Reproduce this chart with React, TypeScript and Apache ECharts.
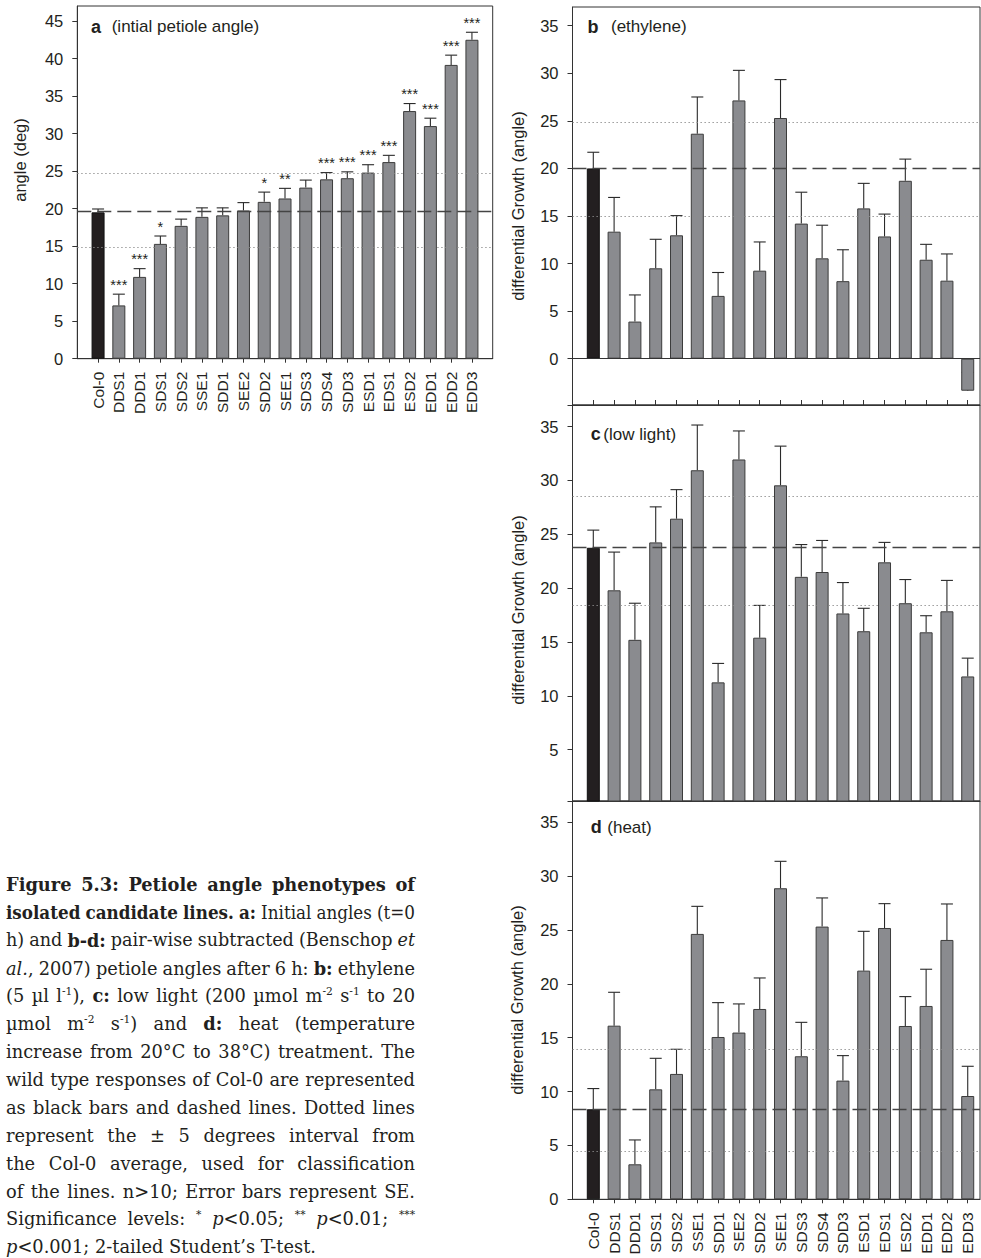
import React, { useEffect, useRef } from 'react';
import * as echarts from 'echarts';

// ---------- data ----------
const categories = ['Col-0', 'DDS1', 'DDD1', 'SDS1', 'SDS2', 'SSE1', 'SDD1', 'SEE2', 'SDD2', 'SEE1', 'SDS3', 'SDS4', 'SDD3', 'ESD1', 'EDS1', 'ESD2', 'EDD1', 'EDD2', 'EDD3'];

// panel a: initial petiole angle
const aMean = [19.5, 7.1, 10.9, 15.3, 17.7, 18.9, 19.1, 19.75, 20.9, 21.35, 22.8, 23.9, 24.05, 24.8, 26.2, 33.0, 31.0, 39.15, 42.5];
const aSE = [0.45, 1.5, 1.1, 1.05, 0.9, 1.2, 1.0, 1.05, 1.3, 1.35, 1.0, 0.9, 0.85, 1.05, 0.9, 1.0, 1.05, 1.3, 1.0];
const aSig = ['', '***', '***', '*', '', '', '', '', '*', '**', '', '***', '***', '***', '***', '***', '***', '***', '***'];
const aRef = 19.7;
const aDotted = [24.65, 14.8];

// panel b: ethylene
const bMean = [20.0, 13.35, 3.9, 9.5, 12.97, 23.65, 6.6, 27.15, 9.25, 25.3, 14.2, 10.55, 8.15, 15.8, 12.85, 18.7, 10.4, 8.2, -3.37];
const bSE = [1.7, 3.6, 2.8, 3.05, 2.07, 3.86, 2.46, 3.16, 3.02, 4.04, 3.3, 3.48, 3.3, 2.63, 2.35, 2.28, 1.62, 2.81, 1.93];
const bRef = 20.0;
const bDotted = [24.9, 14.95];

// panel c: low light
const cMean = [23.75, 19.8, 15.2, 24.25, 26.45, 30.95, 11.25, 31.95, 15.4, 29.55, 21.05, 21.5, 17.65, 16.0, 22.4, 18.6, 15.9, 17.85, 11.8];
const cSE = [1.64, 3.55, 3.4, 3.3, 2.7, 4.2, 1.76, 2.65, 3.0, 3.64, 3.0, 2.93, 2.87, 2.13, 1.85, 2.2, 1.54, 2.87, 1.7];
const cRef = 23.8;
const cDotted = [28.5, 18.4];

// panel d: heat
const dMean = [8.36, 16.12, 3.25, 10.21, 11.64, 24.64, 15.07, 15.48, 17.67, 28.88, 13.28, 25.32, 11.02, 21.23, 25.19, 16.09, 17.95, 24.08, 9.59];
const dSE = [1.92, 3.1, 2.26, 2.88, 2.29, 2.56, 3.19, 2.66, 2.88, 2.5, 3.15, 2.66, 2.32, 3.65, 2.26, 2.73, 3.41, 3.34, 2.76];
const dRef = 8.36;
const dDotted = [13.9, 4.45];

const aTicks = [0, 5, 10, 15, 20, 25, 30, 35, 40, 45];
const bTicks = [0, 5, 10, 15, 20, 25, 30, 35];
const cTicks = [5, 10, 15, 20, 25, 30, 35];
const dTicks = [0, 5, 10, 15, 20, 25, 30, 35];

const titles = [
  { letter: 'a', text: '(intial petiole angle)' },
  { letter: 'b', text: '(ethylene)' },
  { letter: 'c', text: '(low light)' },
  { letter: 'd', text: '(heat)' },
];
const aName = 'angle (deg)';
const bcdName = 'differential Growth (angle)';

const CAPTION = [
  '{b|Figure} {b|5.3:} {b|Petiole} {b|angle} {b|phenotypes} {b|of}',
  '{b|isolated} {b|candidate} {b|lines.} {b|a:} Initial angles (t=0',
  'h) and {b|b-d:} pair-wise subtracted (Benschop {i|et}',
  '{i|al.}, 2007) petiole angles after 6 h: {b|b:} ethylene',
  '(5 µl l{s|-1}), {b|c:} low light (200 µmol m{s|-2} s{s|-1} to 20',
  'µmol m{s|-2} s{s|-1}) and {b|d:} heat (temperature',
  'increase from 20°C to 38°C) treatment. The',
  'wild type responses of Col-0 are represented',
  'as black bars and dashed lines. Dotted lines',
  'represent the ± 5 degrees interval from',
  'the Col-0 average, used for classification',
  'of the lines. n>10; Error bars represent SE.',
  'Significance levels: {s|*} {i|p}<0.05; {s|**} {i|p}<0.01; {s|***}',
  '{i|p}<0.001; 2-tailed Student’s T-test.',
];

// ---------- styles ----------
const FONT = '"Liberation Sans", Arial, Helvetica, sans-serif';
const SERIF = '"DejaVu Serif", serif';
const TXT = '#231f20';
const AX = '#333333';
const GRAY = '#8a8b8f';
const BLACK = '#231f20';
const EDGE = '#3c3c3c';

const idx = categories.map((_, i) => i);

function buildPanel(k: number, means: number[], se: number[], sig: string[] | null, ref: number, dotted: number[], zero: boolean) {
  const mlData: any[] = [
    { yAxis: ref, lineStyle: { type: [14, 6], color: '#444', width: 1.3 } },
    ...dotted.map((v) => ({ yAxis: v, lineStyle: { type: [1.3, 2.7], color: '#8c8c8c', width: 1 } })),
  ];
  if (zero) mlData.push({ yAxis: 0, lineStyle: { type: 'solid', color: AX, width: 1 } });
  const bar = {
    type: 'bar',
    xAxisIndex: k,
    yAxisIndex: k,
    barWidth: 13,
    data: means.map((v, i) => ({
      value: [i, v],
      itemStyle: { color: i === 0 ? BLACK : GRAY, borderColor: i === 0 ? '#111' : EDGE, borderWidth: 1 },
    })),
    markLine: { silent: true, symbol: ['none', 'none'], label: { show: false }, data: mlData },
  };
  const err = {
    type: 'custom',
    xAxisIndex: k,
    yAxisIndex: k,
    data: means.map((v, i) => [i, v, se[i]]),
    renderItem: (params: any, api: any) => {
      const i = params.dataIndex;
      const x = api.value(0);
      const v = api.value(1);
      const s = api.value(2);
      const p0 = api.coord([x, v]);
      const p1 = api.coord([x, v + s]);
      const st = { stroke: '#2a2a2a', lineWidth: 1.1 };
      const children: any[] = [
        { type: 'line', shape: { x1: p0[0], y1: p0[1], x2: p1[0], y2: p1[1] }, style: st },
        { type: 'line', shape: { x1: p1[0] - 6, y1: p1[1], x2: p1[0] + 6, y2: p1[1] }, style: st },
      ];
      if (sig && sig[i]) {
        children.push({
          type: 'text',
          style: { text: sig[i], x: p1[0], y: p1[1] - 2, align: 'center', verticalAlign: 'bottom', fontSize: 14.5, fontFamily: FONT, fill: TXT },
        });
      }
      return { type: 'group', children };
    },
  };
  return [bar, err];
}

function xAxis(k: number, max: number, mode: 'labels' | 'inside' | 'none') {
  return {
    type: 'value',
    gridIndex: k,
    min: -1,
    max,
    position: 'bottom',
    axisLine: { show: true, onZero: false, lineStyle: { color: AX, width: 1 } },
    axisTick: {
      show: mode !== 'none',
      inside: mode === 'inside',
      length: mode === 'inside' ? 5 : 4,
      customValues: idx,
      lineStyle: { color: AX, width: 1 },
    },
    axisLabel: {
      show: mode === 'labels',
      customValues: idx,
      rotate: 90,
      margin: 13,
      fontSize: 15.5,
      fontFamily: FONT,
      color: TXT,
      formatter: (v: number) => categories[Math.round(v)] ?? '',
    },
    splitLine: { show: false },
  };
}

function yAxis(k: number, min: number, max: number, labels: number[], ticks: number[]) {
  return {
    type: 'value',
    gridIndex: k,
    min,
    max,
    axisLine: { show: true, onZero: false, lineStyle: { color: AX, width: 1 } },
    axisTick: { show: true, length: 5, customValues: ticks, lineStyle: { color: AX, width: 1 } },
    axisLabel: { show: true, customValues: labels, margin: 14, fontSize: 16.5, fontFamily: FONT, color: TXT },
    splitLine: { show: false },
  };
}

function captionElements(): any[] {
  const cv = document.createElement('canvas');
  const ctx = cv.getContext('2d')!;
  const fontOf = (st: string, fs: number) =>
    st === 'b' ? `bold ${fs}px ${SERIF}` : st === 'i' ? `italic ${fs}px ${SERIF}` : st === 's' ? `${fs * 0.6}px ${SERIF}` : `${fs}px ${SERIF}`;
  const parse = (line: string) =>
    line.split(' ').map((w) => {
      const runs: { st: string; t: string }[] = [];
      const re = /\{([bis])\|([^}]*)\}|([^{]+)/g;
      let m: RegExpExecArray | null;
      while ((m = re.exec(w))) runs.push(m[3] !== undefined ? { st: 'n', t: m[3] } : { st: m[1], t: m[2] });
      return runs;
    });
  const parsed = CAPTION.map(parse);
  const runW = (r: { st: string; t: string }, fs: number) => {
    ctx.font = fontOf(r.st, fs);
    return ctx.measureText(r.t).width;
  };
  const wordW = (runs: { st: string; t: string }[], fs: number) => runs.reduce((s, r) => s + runW(r, fs), 0);
  const X0 = 6;
  const W = 409;
  ctx.font = fontOf('n', 10);
  const sp10 = ctx.measureText(' ').width;
  let fs = (10 * (W - 3)) / (parsed[7].reduce((s, w) => s + wordW(w, 10), 0) + sp10 * (parsed[7].length - 1));
  fs = Math.min(fs, 19);
  ctx.font = fontOf('n', fs);
  const spW = ctx.measureText(' ').width;
  const els: any[] = [];
  parsed.forEach((words, j) => {
    const base = 890.7 + j * 27.87;
    const total = words.reduce((s, w) => s + wordW(w, fs), 0);
    const last = j === parsed.length - 1;
    const minGaps = spW * 0.9 * (words.length - 1);
    // condense a line horizontally if its words would not fit with normal spaces
    const sx = !last && total + minGaps > W ? (W - minGaps) / total : 1;
    const gap = last ? spW : (W - total * sx) / (words.length - 1);
    let cx = X0;
    words.forEach((w) => {
      w.forEach((r) => {
        const rw = runW(r, fs) * sx;
        const isSup = r.st === 's';
        const rfs = isSup ? fs * 0.6 : fs;
        const y = isSup ? base - 0.4 * fs - 0.35 * rfs : base - 0.35 * fs;
        els.push({
          type: 'text',
          x: cx,
          y,
          scaleX: sx,
          silent: true,
          style: {
            text: r.t,
            fontSize: rfs,
            fontFamily: SERIF,
            fontWeight: r.st === 'b' ? 'bold' : 'normal',
            fontStyle: r.st === 'i' ? 'italic' : 'normal',
            fill: TXT,
            align: 'left',
            verticalAlign: 'middle',
          },
        });
        cx += rw;
      });
      cx += gap;
    });
  });
  return els;
}

function titleEls(): any[] {
  const pos = [
    { lx: 91, tx: 111.7, y: 26.5 },
    { lx: 587.5, tx: 611, y: 26.5 },
    { lx: 590.7, tx: 603.3, y: 434 },
    { lx: 590.7, tx: 607.3, y: 827 },
  ];
  const els: any[] = [];
  titles.forEach((t, i) => {
    els.push({
      type: 'text', x: pos[i].lx, y: pos[i].y, silent: true,
      style: { text: t.letter, fontSize: 18, fontWeight: 'bold', fontFamily: FONT, fill: TXT, align: 'left', verticalAlign: 'middle' },
    });
    els.push({
      type: 'text', x: pos[i].tx, y: pos[i].y, silent: true,
      style: { text: t.text, fontSize: 17, fontFamily: FONT, fill: TXT, align: 'left', verticalAlign: 'middle' },
    });
  });
  const names = [
    { t: aName, x: 20, y: 160 },
    { t: bcdName, x: 517.5, y: 206 },
    { t: bcdName, x: 517.5, y: 610 },
    { t: bcdName, x: 517, y: 1000 },
  ];
  names.forEach((n) => {
    els.push({
      type: 'text', x: n.x, y: n.y, rotation: Math.PI / 2, silent: true,
      style: { text: n.t, fontSize: 16.5, fontFamily: FONT, fill: TXT, align: 'center', verticalAlign: 'middle' },
    });
  });
  return els;
}

function buildOption(): any {
  const gridStyle = { show: true, borderColor: AX, borderWidth: 1, backgroundColor: 'transparent' };
  const RMAX = 18.59;
  const bMin = -4.87;
  const cMin = 0.233;
  return {
    animation: false,
    backgroundColor: '#ffffff',
    grid: [
      { left: 77.3, top: 6, width: 415.4, height: 352.7, ...gridStyle },
      { left: 572.5, top: 7, width: 407.5, height: 398, ...gridStyle },
      { left: 572.5, top: 405, width: 407.5, height: 396, ...gridStyle },
      { left: 572.5, top: 801, width: 407.5, height: 398.3, ...gridStyle },
    ],
    xAxis: [xAxis(0, 19, 'labels'), xAxis(1, RMAX, 'inside'), xAxis(2, RMAX, 'none'), xAxis(3, RMAX, 'labels')],
    yAxis: [
      yAxis(0, 0, 47, aTicks, aTicks),
      yAxis(1, bMin, 36.97, bTicks, [bMin, ...bTicks]),
      yAxis(2, cMin, 37.01, cTicks, [cMin, ...cTicks]),
      yAxis(3, 0, 36.98, dTicks, dTicks),
    ],
    series: [
      ...buildPanel(0, aMean, aSE, aSig, aRef, aDotted, false),
      ...buildPanel(1, bMean, bSE, null, bRef, bDotted, true),
      ...buildPanel(2, cMean, cSE, null, cRef, cDotted, false),
      ...buildPanel(3, dMean, dSE, null, dRef, dDotted, false),
    ],
    graphic: { elements: [...titleEls(), ...captionElements()] },
  };
}

export default function App() {
  const ref = useRef<HTMLDivElement>(null);
  useEffect(() => {
    const chart = echarts.init(ref.current!, null, { renderer: 'svg' });
    chart.setOption(buildOption());
    return () => chart.dispose();
  }, []);
  return (
    <div
      ref={ref}
      style={{ position: 'absolute', left: 0, top: 0, width: 981, height: 1258, background: '#ffffff' }}
    />
  );
}
